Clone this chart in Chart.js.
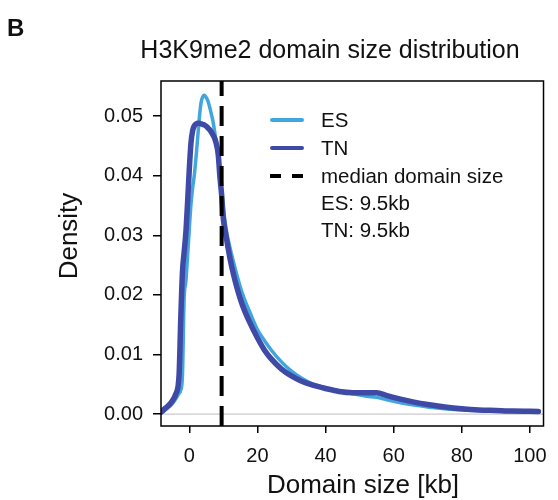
<!DOCTYPE html>
<html lang="en">
<head>
  <meta charset="UTF-8">
  <title>H3K9me2 domain size distribution</title>
  <style>
    html, body { margin: 0; padding: 0; background: #fff; }
    .chart-box { width: 558px; height: 500px; }
  </style>
  <script src="https://cdn.jsdelivr.net/npm/chart.js"></script>
</head>
<body>
  <div class="chart-box">
    <canvas id="densityChart" width="558" height="500"></canvas>
  </div>

  <script>
    // domain size grid (kb) shared by both density curves
    const sizeKb = [-8.3, -7, -6, -5, -4, -3, -2.5, -2, -1.5, -1, -0.5, 0, 0.5, 1, 1.5, 2, 2.5, 3, 3.5, 4,
      4.5, 5, 5.5, 6, 6.5, 7, 7.5, 8, 8.5, 9, 9.5, 10, 11, 12, 13, 14, 15, 16, 18, 20,
      22, 24, 27, 30, 33, 36, 40, 44, 48, 52, 55, 58, 62, 66, 70, 75, 80, 85, 90, 95, 102.5];

    const esDensity = [0.0002, 0.0007, 0.0012, 0.0017, 0.0025, 0.0035, 0.0040, 0.0065, 0.0195, 0.0222, 0.0265, 0.0310, 0.0352, 0.0380, 0.0402, 0.0432, 0.0466, 0.0500, 0.0524, 0.0533,
      0.0535, 0.0531, 0.0525, 0.0515, 0.0503, 0.0490, 0.0472, 0.0450, 0.0428, 0.0400, 0.0375, 0.0345, 0.0305, 0.0278, 0.0255, 0.0233, 0.0213, 0.0196, 0.0168, 0.0142,
      0.0124, 0.0108, 0.0088, 0.0072, 0.0060, 0.0051, 0.0044, 0.0039, 0.0034, 0.0030, 0.0028, 0.0024, 0.0019, 0.0015, 0.0012, 0.0009, 0.0007, 0.0006, 0.0005, 0.0004, 0.0003];

    const tnDensity = [0.0003, 0.0010, 0.0015, 0.0022, 0.0033, 0.0065, 0.0160, 0.0238, 0.0272, 0.0305, 0.0355, 0.0410, 0.0455, 0.0476, 0.0484, 0.0487, 0.0488, 0.0488, 0.0487, 0.0486,
      0.0485, 0.0483, 0.0480, 0.0477, 0.0473, 0.0468, 0.0462, 0.0452, 0.0436, 0.0398, 0.0368, 0.0328, 0.0292, 0.0260, 0.0234, 0.0212, 0.0193, 0.0177, 0.0151, 0.0128,
      0.0108, 0.0093, 0.0076, 0.0064, 0.0055, 0.0049, 0.0043, 0.0038, 0.0036, 0.0036, 0.0036, 0.0031, 0.0025, 0.0020, 0.0016, 0.0012, 0.0009, 0.0007, 0.0006, 0.0005, 0.00045];

    const medianKb = 9.5;
    const medianLabels = ["ES: 9.5kb", "TN: 9.5kb"];
    const seriesNames = ["ES", "TN"];

    const xRange = [-8.3, 104];
    const yRange = [-0.002, 0.0559];
    const xTicks = [0, 20, 40, 60, 80, 100];
    const yTicks = [0, 0.01, 0.02, 0.03, 0.04, 0.05];

    const ES_COLOR = "#42a6de";
    const TN_COLOR = "#3f49a6";
    const FONT = "'Liberation Sans', Arial, Helvetica, sans-serif";

    const toPoints = (xs, ys) => xs.map((x, i) => ({ x: x, y: ys[i] }));

    // box, titles and the legend drawn inside the plot, R style
    const annotations = {
      id: "annotations",
      afterDraw(chart) {
        const { ctx, chartArea: a } = chart;
        ctx.save();
        ctx.strokeStyle = "#000";
        ctx.lineWidth = 1.5;
        ctx.strokeRect(a.left, a.top, a.right - a.left, a.bottom - a.top);

        ctx.fillStyle = "#111";
        ctx.textBaseline = "alphabetic";
        ctx.font = "bold 24px " + FONT;
        ctx.textAlign = "left";
        ctx.fillText("B", 7, 36);

        ctx.font = "25px " + FONT;
        ctx.textAlign = "center";
        ctx.fillText("H3K9me2 domain size distribution", 330, 58);

        ctx.font = "26px " + FONT;
        ctx.textBaseline = "middle";
        ctx.fillText("Domain size [kb]", 363, 486);
        ctx.save();
        ctx.translate(70, 236);
        ctx.rotate(-Math.PI / 2);
        ctx.fillText("Density", 0, 0);
        ctx.restore();

        // legend
        const rows = [120, 148, 176, 203, 230];
        ctx.lineCap = "round";
        ctx.lineWidth = 4;
        [ES_COLOR, TN_COLOR].forEach((c, i) => {
          ctx.strokeStyle = c;
          ctx.beginPath();
          ctx.moveTo(272, rows[i]);
          ctx.lineTo(302, rows[i]);
          ctx.stroke();
        });
        ctx.strokeStyle = "#000";
        ctx.lineCap = "butt";
        ctx.beginPath();
        ctx.moveTo(270, rows[2]); ctx.lineTo(281, rows[2]);
        ctx.moveTo(292, rows[2]); ctx.lineTo(303, rows[2]);
        ctx.stroke();

        ctx.font = "20.5px " + FONT;
        ctx.textAlign = "left";
        const legendText = [seriesNames[0], seriesNames[1], "median domain size"].concat(medianLabels);
        legendText.forEach((t, i) => ctx.fillText(t, 321, rows[i] + 1));
        ctx.restore();
      }
    };

    new Chart(document.getElementById("densityChart"), {
      type: "line",
      data: {
        datasets: [
          {
            label: "median domain size",
            data: [{ x: medianKb, y: yRange[0] }, { x: medianKb, y: yRange[1] }],
            borderColor: "#000",
            borderWidth: 4,
            borderDash: [20, 10],
            pointRadius: 0,
            order: 0
          },
          {
            label: seriesNames[1],
            data: toPoints(sizeKb, tnDensity),
            borderColor: TN_COLOR,
            borderWidth: 5.5,
            pointRadius: 0,
            cubicInterpolationMode: "monotone",
            borderJoinStyle: "round",
            borderCapStyle: "round",
            order: 1
          },
          {
            label: seriesNames[0],
            data: toPoints(sizeKb, esDensity),
            borderColor: ES_COLOR,
            borderWidth: 3.5,
            pointRadius: 0,
            cubicInterpolationMode: "monotone",
            borderJoinStyle: "round",
            borderCapStyle: "round",
            order: 2
          },
          {
            label: "zero",
            data: [{ x: xRange[0], y: 0 }, { x: xRange[1], y: 0 }],
            borderColor: "#bdbdbd",
            borderWidth: 1,
            pointRadius: 0,
            order: 3
          }
        ]
      },
      options: {
        responsive: false,
        animation: false,
        layout: { padding: { left: 0, top: 81, right: 12, bottom: 0 } },
        plugins: {
          legend: { display: false },
          tooltip: { enabled: false },
          title: { display: false }
        },
        scales: {
          x: {
            type: "linear",
            min: xRange[0],
            max: xRange[1],
            afterBuildTicks: (s) => { s.ticks = xTicks.map(v => ({ value: v })); },
            afterFit: (s) => { s.height = 74; },
            border: { display: false },
            grid: { drawOnChartArea: false, drawTicks: true, tickLength: 7, color: "#000", lineWidth: 1.5 },
            ticks: { color: "#111", padding: 11, maxRotation: 0, font: { family: FONT, size: 20 } }
          },
          y: {
            type: "linear",
            min: yRange[0],
            max: yRange[1],
            afterBuildTicks: (s) => { s.ticks = yTicks.map(v => ({ value: v })); },
            afterFit: (s) => { s.width = 161; },
            border: { display: false },
            grid: { drawOnChartArea: false, drawTicks: true, tickLength: 8, color: "#000", lineWidth: 1.5 },
            ticks: { color: "#111", padding: 10, font: { family: FONT, size: 20 }, callback: (v) => Number(v).toFixed(2) }
          }
        }
      },
      plugins: [annotations]
    });
  </script>
</body>
</html>
